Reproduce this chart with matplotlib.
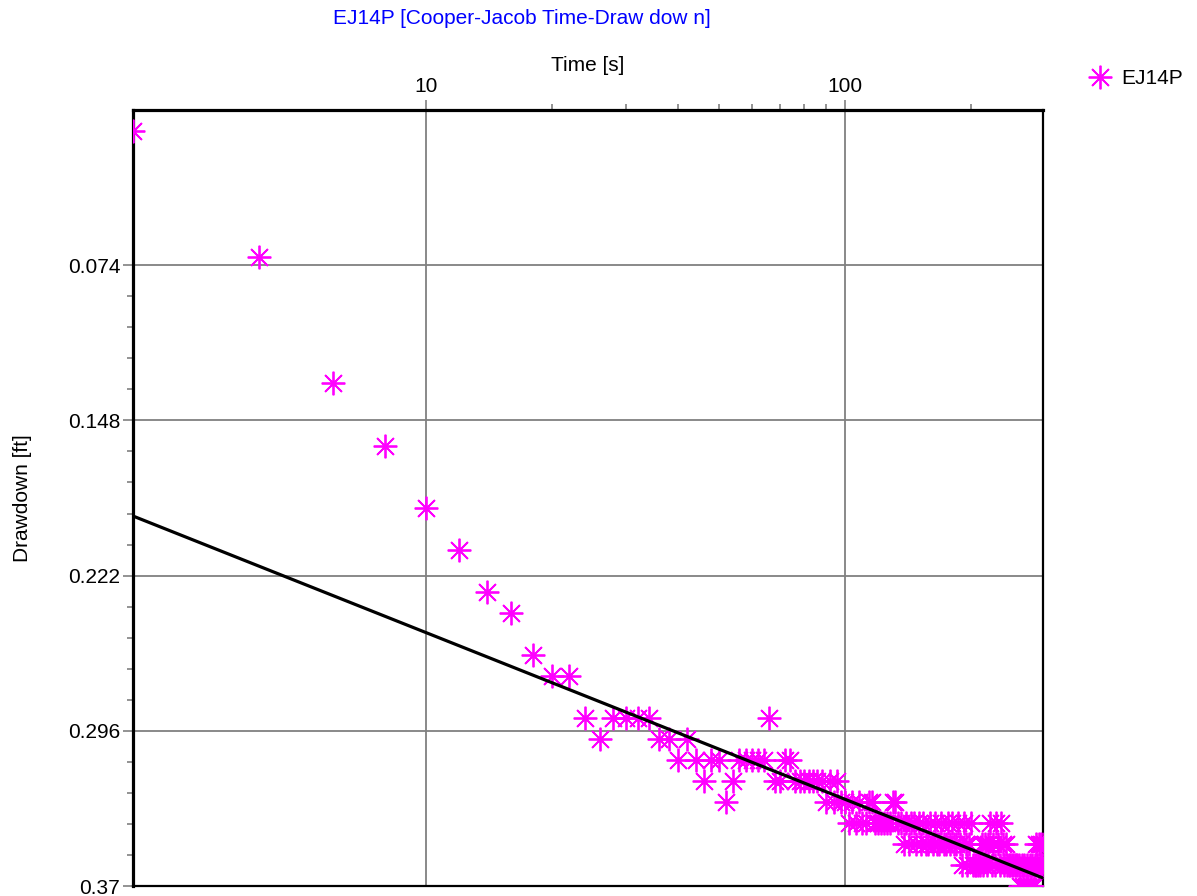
import numpy as np
import matplotlib
matplotlib.use('Agg')
import matplotlib.pyplot as plt
from matplotlib.ticker import FixedLocator, NullFormatter
from matplotlib.lines import Line2D

plt.rcParams['font.family'] = ['Liberation Sans', 'DejaVu Sans']

# observed data, EJ14P
time_s = [2, 4, 6, 8, 10, 12, 14, 16, 18, 20, 22, 24, 26, 28, 30, 32, 34, 36, 38, 40,
          42, 44, 46, 48, 50, 52, 54, 56, 58, 60, 62, 64, 66, 68, 70, 72, 74, 76, 78, 80,
          82, 84, 86, 88, 90, 92, 94, 96, 98, 100, 102, 104, 106, 108, 110, 112, 114, 116, 118, 120,
          122, 124, 126, 128, 130, 132, 134, 136, 138, 140, 142, 144, 146, 148, 150, 152, 154, 156, 158, 160,
          162, 164, 166, 168, 170, 172, 174, 176, 178, 180, 182, 184, 186, 188, 190, 192, 194, 196, 198, 200,
          202, 204, 206, 208, 210, 212, 214, 216, 218, 220, 222, 224, 226, 228, 230, 232, 234, 236, 238, 240,
          242, 244, 246, 248, 250, 252, 254, 256, 258, 260, 262, 264, 266, 268, 270, 272, 274, 276, 278, 280,
          282, 284, 286, 288, 290, 292, 294, 296, 298]
drawdown_ft = [0.010, 0.070, 0.130, 0.160, 0.190, 0.210, 0.230, 0.240, 0.260, 0.270,
               0.270, 0.290, 0.300, 0.290, 0.290, 0.290, 0.290, 0.300, 0.300, 0.310,
               0.300, 0.310, 0.320, 0.310, 0.310, 0.330, 0.320, 0.310, 0.310, 0.310,
               0.310, 0.310, 0.290, 0.320, 0.320, 0.310, 0.310, 0.320, 0.320, 0.320,
               0.320, 0.320, 0.320, 0.320, 0.330, 0.320, 0.330, 0.320, 0.330, 0.330,
               0.340, 0.330, 0.340, 0.330, 0.340, 0.340, 0.330, 0.330, 0.340, 0.340,
               0.340, 0.340, 0.340, 0.340, 0.330, 0.330, 0.340, 0.340, 0.350, 0.340,
               0.350, 0.340, 0.340, 0.350, 0.340, 0.350, 0.340, 0.350, 0.350, 0.340,
               0.350, 0.340, 0.350, 0.350, 0.340, 0.350, 0.350, 0.340, 0.350, 0.340,
               0.350, 0.350, 0.340, 0.350, 0.360, 0.340, 0.350, 0.360, 0.350, 0.340,
               0.360, 0.360, 0.360, 0.360, 0.360, 0.350, 0.360, 0.350, 0.360, 0.350,
               0.340, 0.360, 0.350, 0.360, 0.340, 0.350, 0.360, 0.340, 0.350, 0.360,
               0.350, 0.360, 0.360, 0.360, 0.360, 0.360, 0.360, 0.360, 0.360, 0.360,
               0.370, 0.360, 0.370, 0.360, 0.370, 0.360, 0.370, 0.360, 0.370, 0.360,
               0.370, 0.360, 0.350, 0.360, 0.350, 0.360, 0.350, 0.360, 0.350]

# Cooper-Jacob straight line fit (end points)
fit_time = [2, 297]
fit_drawdown = [0.1936, 0.3662]

xmajor = [10, 100]
xmajor_labels = ['10', '100']
xminor = [20, 30, 40, 50, 60, 70, 80, 90, 200]
ymajor = [0.074, 0.148, 0.222, 0.296, 0.37]
ymajor_labels = ['0.074', '0.148', '0.222', '0.296', '0.37']
yminor = [0.0888, 0.1036, 0.1184, 0.1332, 0.1628, 0.1776, 0.1924, 0.2072,
          0.2368, 0.2516, 0.2664, 0.2812, 0.3108, 0.3256, 0.3404, 0.3552]

fig = plt.figure(figsize=(11.97, 8.96), dpi=100)
ax = fig.add_axes([133/1197, 1-886/896, 910/1197, 776/896])

mk = (8, 2, 0)
ax.plot(time_s, drawdown_ft, linestyle='none', marker=mk, markersize=17,
        markeredgecolor='#ff00ff', markeredgewidth=1.3, zorder=3)
ax.plot(fit_time, fit_drawdown, color='black', linewidth=2.3, zorder=4)

ax.set_xscale('log')
ax.set_xlim(2, 297)
ax.set_ylim(0.37, 0.0)

ax.xaxis.tick_top()
ax.xaxis.set_label_position('top')
ax.xaxis.set_major_locator(FixedLocator(xmajor))
ax.set_xticklabels(xmajor_labels)
ax.xaxis.set_minor_locator(FixedLocator(xminor))
ax.xaxis.set_minor_formatter(NullFormatter())
ax.set_yticks(ymajor)
ax.set_yticklabels(ymajor_labels)
ax.yaxis.set_minor_locator(FixedLocator(yminor))

ax.tick_params(axis='both', which='major', length=7.2, width=1.2, color='#808080',
               labelsize=15, pad=2)
ax.tick_params(axis='both', which='minor', length=4.3, width=1.2, color='#808080')
ax.tick_params(axis='x', which='major', pad=3)
ax.grid(True, which='major', color='#808080', linewidth=1.3)

for side in ['top', 'left']:
    ax.spines[side].set_linewidth(2.3)
for side in ['right', 'bottom']:
    ax.spines[side].set_linewidth(1.6)

ax.set_xlabel('Time [s]', fontsize=15, labelpad=4)
ax.set_ylabel('Drawdown [ft]', fontsize=15, labelpad=26)

fig.text(522/1197, 1-18/896, 'EJ14P [Cooper-Jacob Time-Draw dow n]', color='#0000ff',
         fontsize=15, ha='center', va='center')

handle = Line2D([], [], linestyle='none', marker=mk, markersize=17,
                markeredgecolor='#ff00ff', markeredgewidth=1.3)
fig.legend([handle], ['EJ14P'], loc='center left', bbox_to_anchor=(1090/1197, 1-79/896),
           frameon=False, fontsize=15, handlelength=1.0, handletextpad=0.5,
           borderpad=0, borderaxespad=0)

fig.savefig('out.png', dpi=100)
